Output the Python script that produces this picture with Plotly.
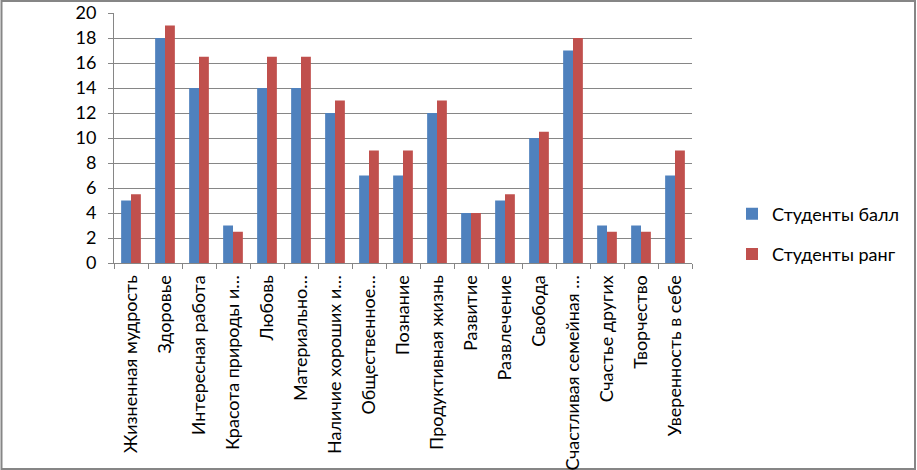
import plotly.graph_objects as go

categories = ["Жизненная мудрость", "Здоровье", "Интересная работа", "Красота природы и…",
              "Любовь", "Материально…", "Наличие хороших и…", "Общественное…",
              "Познание", "Продуктивная жизнь", "Развитие", "Развлечение", "Свобода",
              "Счастливая семейная …", "Счастье других", "Творчество", "Уверенность в себе"]
ball = [5, 18, 14, 3, 14, 14, 12, 7, 7, 12, 4, 5, 10, 17, 3, 3, 7]
rang = [5.5, 19, 16.5, 2.5, 16.5, 16.5, 13, 9, 9, 13, 4, 5.5, 10.5, 18, 2.5, 2.5, 9]
series_names = ["Студенты балл", "Студенты ранг"]
y_ticks = [0, 2, 4, 6, 8, 10, 12, 14, 16, 18, 20]

W, H = 917, 470
ml, mr, mt, mb = 114, 225, 13, 207
pw, ph = W - ml - mr, H - mt - mb

fig = go.Figure()
fig.add_trace(go.Bar(x=categories, y=ball, name=series_names[0], marker_color="#4F81BD",
                     marker_line_width=0, legendgroup="a"))
fig.add_trace(go.Bar(x=categories, y=rang, name=series_names[1], marker_color="#C0504D",
                     marker_line_width=0, legendgroup="b"))

font = "Lato, Carlito, 'Open Sans', sans-serif"
fig.update_layout(
    width=W, height=H,
    margin=dict(l=ml, r=mr, t=mt, b=mb, pad=0, autoexpand=False),
    paper_bgcolor="white", plot_bgcolor="white",
    barmode="group", bargap=0.42, bargroupgap=0,
    font=dict(family=font, color="#000000"),
    legend=dict(x=(732 - ml) / pw, y=(H - mb - 234) / ph, xanchor="left", yanchor="middle",
                font=dict(size=18, family=font), tracegroupgap=14, traceorder="grouped",
                itemwidth=30, bgcolor="rgba(0,0,0,0)"),
    xaxis=dict(type="category", tickangle=-90, tickfont=dict(size=18, family=font),
               automargin=False, ticklabelstandoff=4,
               showline=True, linecolor="#868686", linewidth=1,
               ticks="outside", ticklen=5, tickcolor="#868686", tickson="boundaries",
               showgrid=False, range=[-0.5, len(categories) - 0.5]),
    yaxis=dict(range=[0, 20], tickvals=y_ticks, tickfont=dict(size=18, family=font),
               automargin=False, ticklabelstandoff=8,
               showline=True, linecolor="#868686", linewidth=1,
               ticks="outside", ticklen=5, tickcolor="#868686",
               showgrid=True, gridcolor="#868686", gridwidth=1, zeroline=False),
    shapes=[dict(type="rect", xref="paper", yref="paper",
                 x0=(1.5 - ml) / pw, x1=(915 - ml) / pw,
                 y0=(H - mb - 469) / ph, y1=(H - mb - 1) / ph,
                 line=dict(color="#868686", width=2), fillcolor="rgba(0,0,0,0)", layer="below")],
)
fig.write_html("out.html", config={"displayModeBar": False},
               post_script="document.body.style.margin='0';document.body.style.overflow='hidden';")
